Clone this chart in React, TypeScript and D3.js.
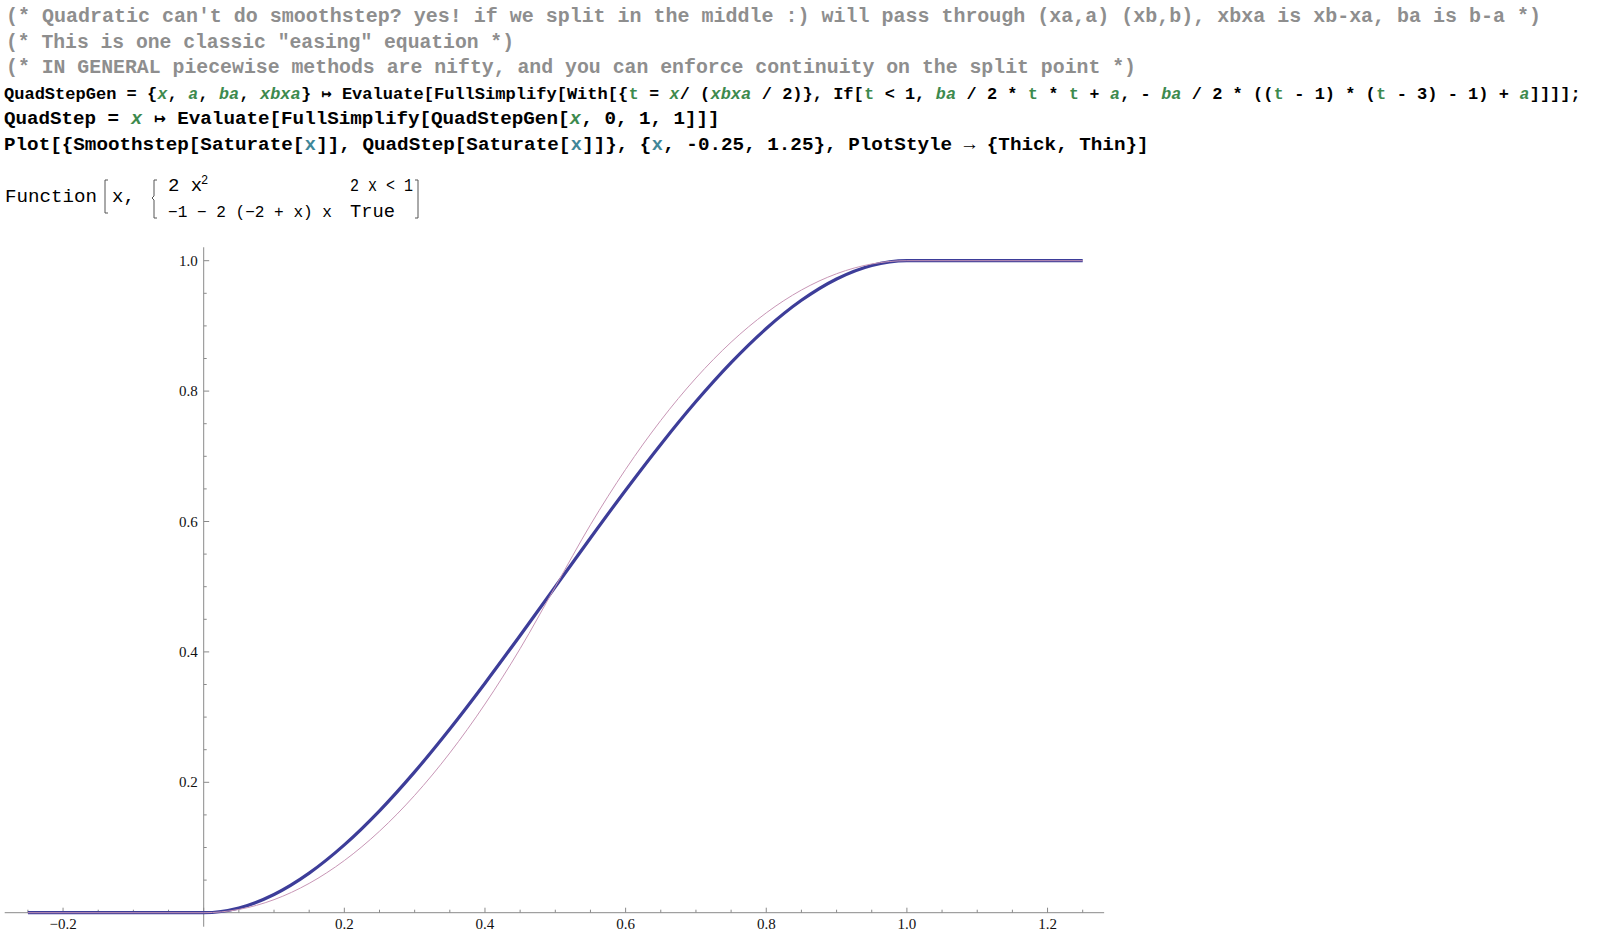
import React from "react";
import * as d3 from "d3";

// ---- data (sampled values of the two plotted curves) ----
const xSamples = [-0.25, 0, 0.05, 0.1, 0.15, 0.2, 0.25, 0.3, 0.35, 0.4, 0.45, 0.5, 0.55, 0.6, 0.65, 0.7, 0.75, 0.8, 0.85, 0.9, 0.95, 1, 1.25];
const smoothstepValues = [0, 0, 0.00725, 0.028, 0.06075, 0.104, 0.15625, 0.216, 0.28175, 0.352, 0.42525, 0.5, 0.57475, 0.648, 0.71825, 0.784, 0.84375, 0.896, 0.93925, 0.972, 0.99275, 1, 1];
const quadstepValues = [0, 0, 0.005, 0.02, 0.045, 0.08, 0.125, 0.18, 0.245, 0.32, 0.405, 0.5, 0.595, 0.68, 0.755, 0.82, 0.875, 0.92, 0.955, 0.98, 0.995, 1, 1];

const xTickLabels = [-0.2, 0.2, 0.4, 0.6, 0.8, 1.0, 1.2];
const yTickLabels = [0.2, 0.4, 0.6, 0.8, 1.0];

type Seg = { t: string; c?: "k" | "g" | "b" | "c"; i?: boolean };

const commentLines = [
  "(* Quadratic can't do smoothstep? yes! if we split in the middle :) will pass through (xa,a) (xb,b), xbxa is xb-xa, ba is b-a *)",
  "(* This is one classic \"easing\" equation *)",
  "(* IN GENERAL piecewise methods are nifty, and you can enforce continuity on the split point *)",
];

const codeLine4: Seg[] = [
  { t: "QuadStepGen = {" }, { t: "x", c: "g", i: true }, { t: ", " }, { t: "a", c: "g", i: true }, { t: ", " },
  { t: "ba", c: "g", i: true }, { t: ", " }, { t: "xbxa", c: "g", i: true },
  { t: "} \u21A6 Evaluate[FullSimplify[With[{" }, { t: "t", c: "g" }, { t: " = " }, { t: "x", c: "g", i: true },
  { t: "/ (" }, { t: "xbxa", c: "g", i: true }, { t: " / 2)}, If[" }, { t: "t", c: "g" }, { t: " < 1, " },
  { t: "ba", c: "g", i: true }, { t: " / 2 * " }, { t: "t", c: "g" }, { t: " * " }, { t: "t", c: "g" }, { t: " + " },
  { t: "a", c: "g", i: true }, { t: ", - " }, { t: "ba", c: "g", i: true }, { t: " / 2 * ((" }, { t: "t", c: "g" },
  { t: " - 1) * (" }, { t: "t", c: "g" }, { t: " - 3) - 1) + " }, { t: "a", c: "g", i: true }, { t: "]]]];" },
];
const codeLine5: Seg[] = [
  { t: "QuadStep = " }, { t: "x", c: "g", i: true }, { t: " \u21A6 Evaluate[FullSimplify[QuadStepGen[" },
  { t: "x", c: "g", i: true }, { t: ", 0, 1, 1]]]" },
];
const codeLine6: Seg[] = [
  { t: "Plot[{Smoothstep[Saturate[" }, { t: "x", c: "b" }, { t: "]], QuadStep[Saturate[" }, { t: "x", c: "b" },
  { t: "]]}, {" }, { t: "x", c: "b" }, { t: ", -0.25, 1.25}, PlotStyle \u2192 {Thick, Thin}]" },
];

const COLORS: Record<string, string> = { k: "#000000", g: "#3d8a4e", b: "#3f8799", c: "#8e8e8e" };
const MONO = "'Liberation Mono', 'DejaVu Sans Mono', monospace";
const SERIF = "'Liberation Serif', 'DejaVu Serif', serif";

function CodeLine({ segs, x0, base, len }: { segs: Seg[]; x0: number; base: number; len: number }) {
  const total = segs.reduce((s, g) => s + g.t.length, 0);
  const cw = len / total;
  const fs = Math.min(20, cw / 0.6 - 0.4);
  let pos = 0;
  const out: React.ReactNode[] = [];
  segs.forEach((s, j) => {
    const start = pos;
    pos += s.t.length;
    const trimmedLead = s.t.length - s.t.replace(/^ +/, "").length;
    const core = s.t.trim();
    if (!core) return;
    out.push(
      <text key={j} x={x0 + (start + trimmedLead) * cw} y={base} fontFamily={MONO} fontWeight="bold" fontSize={fs}
        fill={COLORS[s.c || "k"]} fontStyle={s.i ? "italic" : "normal"}
        textLength={core.length * cw - 0.4} lengthAdjust="spacingAndGlyphs" xmlSpace="preserve">{core}</text>
    );
  });
  return <g>{out}</g>;
}

export default function App() {
  const x = d3.scaleLinear().domain([-0.25, 1.25]).range([27.9, 1082.7]);
  const y = d3.scaleLinear().domain([0, 1]).range([912.7, 260.7]);

  const line = d3
    .line<number>()
    .x((_, i) => x(xSamples[i]))
    .curve(d3.curveMonotoneX);
  const smoothPath = line.y((v) => y(v))(smoothstepValues) || "";
  const quadPath = line.y((v) => y(v))(quadstepValues) || "";

  const minorX = d3.range(-5, 26).map((k) => k * 0.05);
  const minorY = d3.range(1, 21).map((k) => k * 0.05);
  const isMajor = (v: number) => Math.abs(Math.round(v * 5) - v * 5) < 1e-6;

  const x0 = x(0);
  const y0 = y(0);
  const fmt = (v: number) => (v < 0 ? "\u2212" : "") + d3.format(".1f")(Math.abs(v));

  const codeLines = [
    { segs: codeLine4, base: 98.5, len: 1577 },
    { segs: codeLine5, base: 124, len: 716 },
    { segs: codeLine6, base: 149.5, len: 1145 },
  ];
  const commentLens = [1535, 508, 1130];
  const commentBases = [22, 47.5, 73];

  return (
    <svg width={1600} height={943} style={{ position: "absolute", left: 0, top: 0, background: "#fff" }}>
      {commentLines.map((s, i) => (
        <text key={i} x={6} y={commentBases[i]} fontFamily={MONO} fontWeight="bold" fontSize={20} fill={COLORS.c}
          textLength={commentLens[i]} lengthAdjust="spacingAndGlyphs" xmlSpace="preserve">{s}</text>
      ))}
      {codeLines.map((l, i) => (
        <CodeLine key={"c" + i} segs={l.segs} x0={4} base={l.base} len={l.len} />
      ))}

      {/* output cell */}
      <g fontFamily={MONO} fontSize={19} fill="#000">
        <text x={5} y={202} textLength={92} lengthAdjust="spacingAndGlyphs">Function</text>
        <path d="M108,180 L105,180 L105,213 L108,213" fill="none" stroke="#555" strokeWidth={1} />
        <text x={112} y={202}>x,</text>
        <path d="M157,180 L154,180 L154,196 L152,198 L154,200 L154,218 L157,218" fill="none" stroke="#555" strokeWidth={1} />
        <text x={168} y={191}>2 x</text>
        <text x={201} y={184} fontSize={12}>2</text>
        <text x={168} y={217} fontSize={16} textLength={164} lengthAdjust="spacingAndGlyphs" xmlSpace="preserve">{"\u22121 \u2212 2 (\u22122 + x) x"}</text>
        <text x={350} y={191} textLength={63} lengthAdjust="spacingAndGlyphs">2 x &lt; 1</text>
        <text x={350} y={217} textLength={45} lengthAdjust="spacingAndGlyphs">True</text>
        <path d="M415,180 L418,180 L418,218 L415,218" fill="none" stroke="#555" strokeWidth={1} />
      </g>

      {/* axes */}
      <g stroke="#8a8a8a" strokeWidth={1} fill="none">
        <line x1={x(-0.283)} x2={x(1.2805)} y1={y0} y2={y0} />
        <line x1={x0} x2={x0} y1={y(-0.0215)} y2={y(1.0206)} />
        {minorX.map((v, i) => (
          <line key={"xt" + i} x1={x(v)} x2={x(v)} y1={y0} y2={y0 - (isMajor(v) ? 5 : 3)} />
        ))}
        {minorY.map((v, i) => (
          <line key={"yt" + i} x1={x0} x2={x0 + (isMajor(v) ? 5.5 : 3)} y1={y(v)} y2={y(v)} />
        ))}
      </g>
      <g fontFamily={SERIF} fontSize={15} fill="#111">
        {xTickLabels.map((v) => (
          <text key={"xl" + v} x={x(v)} y={929} textAnchor="middle">{fmt(v)}</text>
        ))}
        {yTickLabels.map((v) => (
          <text key={"yl" + v} x={x0 - 6} y={y(v) + 5} textAnchor="end">{fmt(v)}</text>
        ))}
      </g>

      {/* curves */}
      <path d={smoothPath} fill="none" stroke="#3d3d99" strokeWidth={3.2} strokeLinejoin="round" />
      <path d={quadPath} fill="none" stroke="#c896b6" strokeWidth={1} strokeLinejoin="round" />
    </svg>
  );
}
